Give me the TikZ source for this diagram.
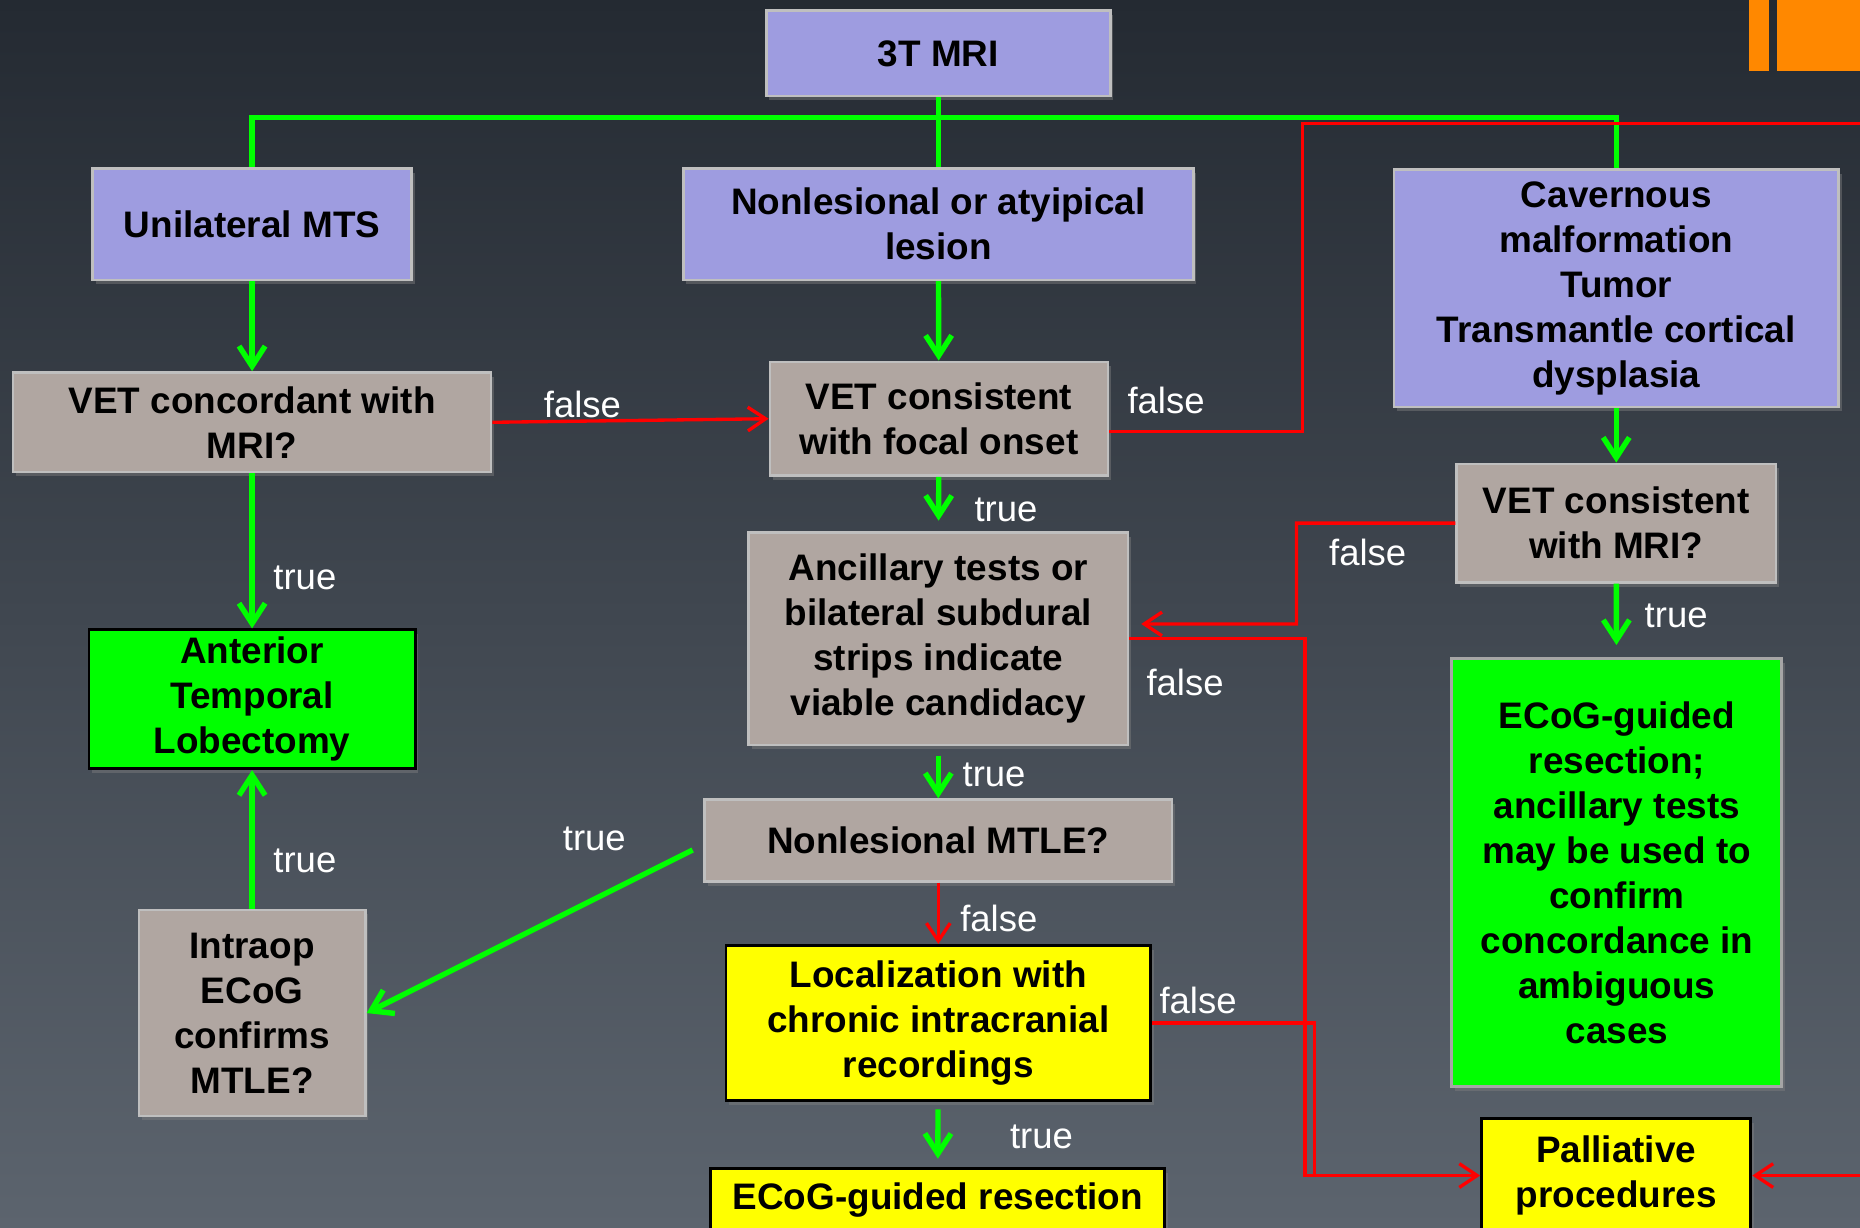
\documentclass[tikz,border=0pt]{standalone}
\usepackage{fontspec}
\setmainfont{Liberation Sans}
\usetikzlibrary{arrows.meta, shadows}

\definecolor{bgtop}{RGB}{36,42,50}
\definecolor{bgmid}{RGB}{45,52,61}
\definecolor{bgbot}{RGB}{92,100,110}
\definecolor{lavender}{RGB}{158,156,224}
\definecolor{taupe}{RGB}{176,166,161}
\definecolor{okgreen}{RGB}{0,255,0}
\definecolor{noyellow}{RGB}{255,255,0}
\definecolor{nored}{RGB}{255,0,0}
\definecolor{taborange}{RGB}{255,136,0}

\tikzstyle{flowbox} = [rectangle, align=center, inner sep=2pt, text=black, font=\bfseries\fontsize{17.7}{21.6}\selectfont, drop shadow={shadow xshift=1.5pt, shadow yshift=-2pt, opacity=0.45}]
\tikzstyle{lavbox} = [flowbox, fill=lavender, draw=gray!50!white, line width=1.2pt]
\tikzstyle{taupebox} = [flowbox, fill=taupe, draw=gray!50!white, line width=1.2pt]
\tikzstyle{greenbox} = [flowbox, fill=okgreen, draw=black, line width=1.4pt]
\tikzstyle{yelbox} = [flowbox, fill=noyellow, draw=black, line width=1.4pt]
\tikzstyle{tflabel} = [text=white, inner sep=1pt, font=\fontsize{17.5}{21}\selectfont]
\tikzstyle{yesline} = [draw=okgreen, line width=2.6pt]
\tikzstyle{yesarrow} = [yesline, -{Straight Barb[length=3.4mm, width=4.4mm]}]
\tikzstyle{noline} = [draw=nored, line width=1.6pt]
\tikzstyle{noarrow} = [noline, -{Straight Barb[length=3mm, width=4mm]}]
\tikzset{wh/.style 2 args={minimum width=#1*0.2mm, minimum height=#2*0.2mm}}

\begin{document}
\begin{tikzpicture}[x=0.2mm, y=-0.2mm]

  % Background
  \clip (0,0) rectangle (1568,1035);
  \shade[top color=bgtop, middle color=bgmid, bottom color=bgbot] (0,0) rectangle (1568,1035);
  \fill[taborange] (1474,0) rectangle (1491,60);
  \fill[taborange] (1498,0) rectangle (1575,60);

  % Top row
  \node (mri) at (791,45) [lavbox, wh={290}{72}] {3T MRI};
  \node (unimts) at (212.5,189) [lavbox, wh={269}{94}] {Unilateral MTS};
  \node (nonles) at (791,189) [lavbox, wh={430}{94}] {Nonlesional or atyipical\\lesion};
  \node (cav) at (1362.5,243) [lavbox, wh={375}{200}] {Cavernous\\malformation\\Tumor\\Transmantle cortical\\dysplasia};

  % Decisions
  \node (vetconc) at (212.5,356) [taupebox, wh={403}{84}] {VET concordant with\\MRI?};
  \node (vetfocal) at (791.5,353) [taupebox, wh={285}{96}] {VET consistent\\with focal onset};
  \node (vetmri) at (1362.5,441) [taupebox, wh={269}{100}] {VET consistent\\with MRI?};
  \node (ancil) at (791,538.5) [taupebox, wh={320}{179}] {Ancillary tests or\\bilateral subdural\\strips indicate\\viable candidacy};
  \node (nlmtle) at (791,708.5) [taupebox, wh={394}{69}] {Nonlesional MTLE?};
  \node (intraop) at (212.5,854) [taupebox, wh={191}{174}] {Intraop\\ECoG\\confirms\\MTLE?};

  % Outcomes
  \node (atl) at (212.5,589.5) [greenbox, wh={275}{117}] {Anterior\\Temporal\\Lobectomy};
  \node (ecogamb) at (1363,735.5) [greenbox, draw=gray!70, wh={278}{361}] {ECoG-guided\\resection;\\ancillary tests\\may be used to\\confirm\\concordance in\\ambiguous\\cases};
  \node (local) at (791,862.5) [yelbox, wh={358}{131}] {Localization with\\chronic intracranial\\recordings};
  \node (ecogres) at (790.5,1012) [yelbox, wh={383}{54}] {ECoG-guided resection};
  \node (pall) at (1362.5,991) [yelbox, wh={227}{96}] {Palliative\\procedures};

  % Junctions
  \coordinate (bus) at (791,99);
  \coordinate (jfocal) at (1098,104);
  \coordinate (rtop) at (1580,104);
  \coordinate (jmri) at (1093,526);
  \coordinate (jpall) at (1100,991);
  \coordinate (jloc) at (1108,991);
  \coordinate (rbot) at (1580,991);

  % Green (true) connectors
  \draw[yesline] (mri.south) -- (bus) -| (unimts.north);
  \draw[yesline] (bus) -| (cav.north);
  \draw[yesline] (bus) -- (nonles.north);
  \draw[yesarrow] (unimts) -- (vetconc);
  \draw[yesarrow] (nonles) -- (vetfocal);
  \draw[yesarrow] (cav) -- (vetmri);
  \draw[yesarrow] (vetconc) -- (atl);
  \draw[yesarrow, shorten >=1.8mm] (vetfocal) -- (ancil);
  \draw[yesarrow, shorten >=2mm] (vetmri) -- (ecogamb);
  \draw[yesarrow, shorten <=1.6mm] (ancil) -- (nlmtle);
  \draw[yesarrow] ([shift={(-9,8)}]nlmtle.west) -- (intraop.east);
  \draw[yesarrow, shorten <=1.2mm, shorten >=1.4mm] (local) -- (ecogres);
  \draw[yesarrow] (intraop) -- (atl);

  % Red (false) connectors
  \draw[noarrow] (vetconc.east) -- (vetfocal.west);
  \draw[noline] ([yshift=-2.2mm]vetfocal.east) -| (jfocal) -- (rtop);
  \draw[noarrow, shorten >=2mm] (vetmri.west) -| (jmri) -- ([yshift=2.5mm]ancil.east);
  \draw[noarrow] (ancil.east) -| (jpall) -- (pall.west);
  \draw[noline] (local.east) -| (jloc);
  \draw[noarrow] (nlmtle) -- (local);
  \draw[noarrow] (rbot) -- (pall.east);

  % Labels
  \node (fconc) at (491,341) [tflabel] {false};
  \node (ffocal) at (983,338) [tflabel] {false};
  \node (tconc) at (257,487) [tflabel] {true};
  \node (tfocal) at (848,430) [tflabel] {true};
  \node (fmri) at (1153,466) [tflabel] {false};
  \node (tmri) at (1413,519) [tflabel] {true};
  \node (fancil) at (999,575) [tflabel] {false};
  \node (tancil) at (838,653) [tflabel] {true};
  \node (tnlmtle) at (501,707) [tflabel] {true};
  \node (fnlmtle) at (842,774) [tflabel] {false};
  \node (flocal) at (1010,843) [tflabel] {false};
  \node (tlocal) at (878,958) [tflabel] {true};
  \node (tintraop) at (257,726) [tflabel] {true};

\end{tikzpicture}
\end{document}
